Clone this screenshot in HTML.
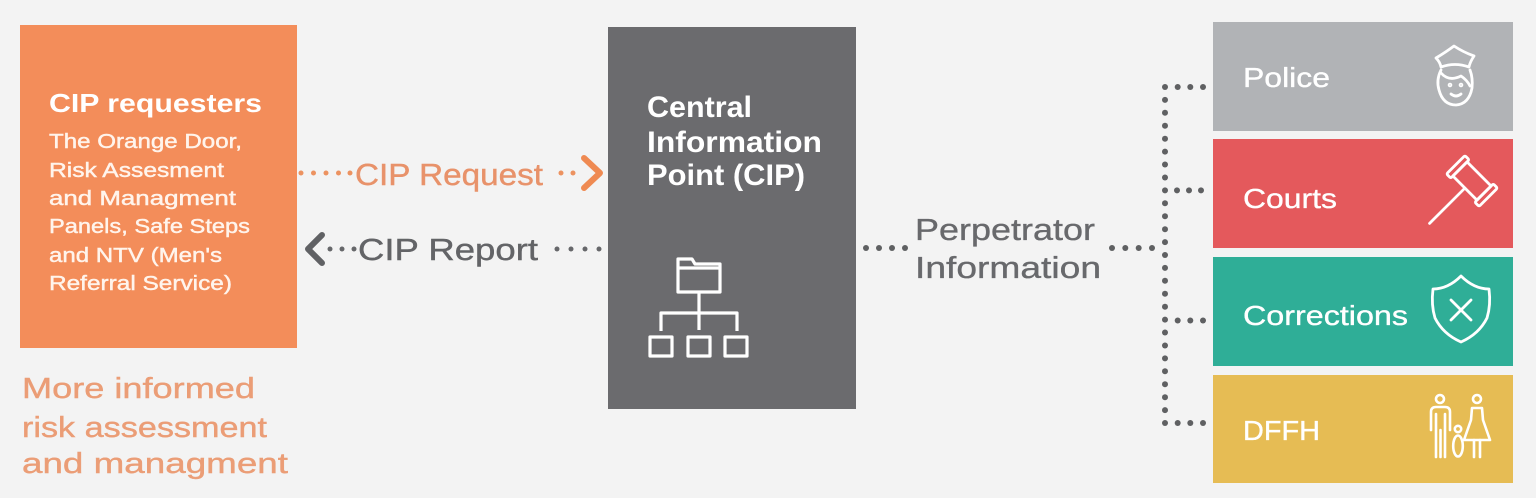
<!DOCTYPE html>
<html>
<head>
<meta charset="utf-8">
<style>
  html,body{margin:0;padding:0;background:#f3f3f3;}
  body{width:1536px;height:498px;overflow:hidden;}
  svg{display:block;}
  text{font-family:"Liberation Sans", Arial, sans-serif;}
</style>
</head>
<body>
<svg width="1536" height="498" viewBox="0 0 1536 498" xmlns="http://www.w3.org/2000/svg">
  <rect x="0" y="0" width="1536" height="498" fill="#f3f3f3"/>

  <!-- Orange requesters box -->
  <rect x="20" y="25" width="277" height="323" fill="#f38d5a"/>
  <text x="49" y="112" font-size="26" font-weight="bold" fill="#ffffff" textLength="213" lengthAdjust="spacingAndGlyphs">CIP requesters</text>
  <g font-size="20.5" fill="#fff4ec" stroke="#fff4ec" stroke-width="0.45">
    <text x="49" y="148" textLength="193" lengthAdjust="spacingAndGlyphs">The Orange Door,</text>
    <text x="49" y="177" textLength="175" lengthAdjust="spacingAndGlyphs">Risk Assesment</text>
    <text x="49" y="205" textLength="187" lengthAdjust="spacingAndGlyphs">and Managment</text>
    <text x="49" y="233" textLength="201" lengthAdjust="spacingAndGlyphs">Panels, Safe Steps</text>
    <text x="49" y="262" textLength="173" lengthAdjust="spacingAndGlyphs">and NTV (Men's</text>
    <text x="49" y="290" textLength="183" lengthAdjust="spacingAndGlyphs">Referral Service)</text>
  </g>

  <!-- More informed text -->
  <g font-size="28.5" fill="#eb9d76" stroke="#eb9d76" stroke-width="0.4">
    <text x="22" y="398" textLength="233" lengthAdjust="spacingAndGlyphs">More informed</text>
    <text x="22" y="437" textLength="245" lengthAdjust="spacingAndGlyphs">risk assessment</text>
    <text x="22" y="473" textLength="266" lengthAdjust="spacingAndGlyphs">and managment</text>
  </g>

  <!-- CIP Request arrow -->
  <g fill="#ec9260">
    <circle cx="301" cy="173" r="2.5"/>
    <circle cx="313.5" cy="173" r="2.5"/>
    <circle cx="326" cy="173" r="2.5"/>
    <circle cx="338.5" cy="173" r="2.5"/>
    <circle cx="350" cy="173" r="2.5"/>
    <circle cx="561" cy="173" r="2.5"/>
    <circle cx="573" cy="173" r="2.5"/>
  </g>
  <text x="355" y="185" font-size="30.5" fill="#e8926a" stroke="#e8926a" stroke-width="0.4" textLength="188" lengthAdjust="spacingAndGlyphs">CIP Request</text>
  <polyline points="584,158 600,173 584,188" fill="none" stroke="#ef8a52" stroke-width="6" stroke-linecap="round" stroke-linejoin="round"/>

  <!-- CIP Report arrow -->
  <polyline points="322,235 308,249 322,263" fill="none" stroke="#606164" stroke-width="6" stroke-linecap="round" stroke-linejoin="round"/>
  <g fill="#66676a">
    <circle cx="330" cy="249" r="2.5"/>
    <circle cx="342" cy="249" r="2.5"/>
    <circle cx="354" cy="249" r="2.5"/>
    <circle cx="557" cy="249" r="2.5"/>
    <circle cx="571" cy="249" r="2.5"/>
    <circle cx="585" cy="249" r="2.5"/>
    <circle cx="599" cy="249" r="2.5"/>
  </g>
  <text x="358" y="260" font-size="30.5" fill="#636467" stroke="#636467" stroke-width="0.4" textLength="180" lengthAdjust="spacingAndGlyphs">CIP Report</text>

  <!-- Central box -->
  <rect x="608" y="27" width="248" height="382" fill="#6b6b6e"/>
  <g font-size="29.5" font-weight="bold" fill="#ffffff">
    <text x="647" y="117" textLength="105" lengthAdjust="spacingAndGlyphs">Central</text>
    <text x="647" y="152" textLength="175" lengthAdjust="spacingAndGlyphs">Information</text>
    <text x="647" y="185" textLength="158" lengthAdjust="spacingAndGlyphs">Point (CIP)</text>
  </g>
  <!-- folder + hierarchy icon -->
  <g fill="none" stroke="#ffffff" stroke-width="3.2" stroke-linejoin="round">
    <path d="M678,259 H692 L695,264 H720 V292 H678 Z"/>
    <line x1="678" y1="268" x2="720" y2="268"/>
    <line x1="699" y1="292" x2="699" y2="330"/>
    <polyline points="661,331 661,313 737,313 737,331"/>
    <rect x="650" y="337" width="22" height="19"/>
    <rect x="688" y="337" width="22" height="19"/>
    <rect x="725" y="337" width="22" height="19"/>
  </g>

  <!-- Perpetrator information text -->
  <g font-size="30.5" fill="#68696c" stroke="#68696c" stroke-width="0.35">
    <text x="915" y="240" textLength="180" lengthAdjust="spacingAndGlyphs">Perpetrator</text>
    <text x="915" y="278" textLength="186" lengthAdjust="spacingAndGlyphs">Information</text>
  </g>

  <!-- Grey dotted connectors -->
  <g fill="#5f6062">
    <!-- left of Perpetrator -->
    <circle cx="866" cy="248" r="3"/>
    <circle cx="879" cy="248" r="3"/>
    <circle cx="892" cy="248" r="3"/>
    <circle cx="905" cy="248" r="3"/>
    <!-- right of Perpetrator -->
    <circle cx="1112" cy="248" r="3"/>
    <circle cx="1125.3" cy="248" r="3"/>
    <circle cx="1138.7" cy="248" r="3"/>
    <circle cx="1152" cy="248" r="3"/>
    <!-- vertical bus -->
    <circle cx="1165" cy="87" r="3"/>
    <circle cx="1165" cy="99.9" r="3"/>
    <circle cx="1165" cy="112.8" r="3"/>
    <circle cx="1165" cy="125.8" r="3"/>
    <circle cx="1165" cy="138.7" r="3"/>
    <circle cx="1165" cy="151.6" r="3"/>
    <circle cx="1165" cy="164.5" r="3"/>
    <circle cx="1165" cy="177.5" r="3"/>
    <circle cx="1165" cy="190.4" r="3"/>
    <circle cx="1165" cy="203.3" r="3"/>
    <circle cx="1165" cy="216.2" r="3"/>
    <circle cx="1165" cy="229.2" r="3"/>
    <circle cx="1165" cy="242.1" r="3"/>
    <circle cx="1165" cy="255" r="3"/>
    <circle cx="1165" cy="267.9" r="3"/>
    <circle cx="1165" cy="280.8" r="3"/>
    <circle cx="1165" cy="293.8" r="3"/>
    <circle cx="1165" cy="306.7" r="3"/>
    <circle cx="1165" cy="319.6" r="3"/>
    <circle cx="1165" cy="332.5" r="3"/>
    <circle cx="1165" cy="345.5" r="3"/>
    <circle cx="1165" cy="358.4" r="3"/>
    <circle cx="1165" cy="371.3" r="3"/>
    <circle cx="1165" cy="384.2" r="3"/>
    <circle cx="1165" cy="397.2" r="3"/>
    <circle cx="1165" cy="410.1" r="3"/>
    <circle cx="1165" cy="423" r="3"/>
    <!-- branches -->
    <circle cx="1177.7" cy="87" r="3"/>
    <circle cx="1190.3" cy="87" r="3"/>
    <circle cx="1203" cy="87" r="3"/>
    <circle cx="1177" cy="190.4" r="3"/>
    <circle cx="1189" cy="190.4" r="3"/>
    <circle cx="1201" cy="190.4" r="3"/>
    <circle cx="1177.7" cy="320.5" r="3"/>
    <circle cx="1190.3" cy="320.5" r="3"/>
    <circle cx="1203" cy="320.5" r="3"/>
    <circle cx="1177.7" cy="423" r="3"/>
    <circle cx="1190.3" cy="423" r="3"/>
    <circle cx="1203" cy="423" r="3"/>
  </g>

  <!-- Right boxes -->
  <rect x="1213" y="22" width="300" height="109" fill="#b1b3b6"/>
  <rect x="1213" y="139" width="300" height="109" fill="#e4595c"/>
  <rect x="1213" y="257" width="300" height="109" fill="#2fae97"/>
  <rect x="1213" y="375" width="300" height="108" fill="#e6bc54"/>

  <g font-size="28" fill="#ffffff" stroke="#ffffff" stroke-width="0.35">
    <text x="1243" y="87" textLength="87" lengthAdjust="spacingAndGlyphs">Police</text>
    <text x="1243" y="208" textLength="94" lengthAdjust="spacingAndGlyphs">Courts</text>
    <text x="1243" y="325" textLength="165" lengthAdjust="spacingAndGlyphs">Corrections</text>
    <text x="1243" y="440" textLength="77" lengthAdjust="spacingAndGlyphs">DFFH</text>
  </g>

  <!-- Police icon -->
  <g fill="none" stroke="#ffffff" stroke-width="2.8" stroke-linecap="round" stroke-linejoin="round">
    <path d="M1436,58 Q1446,52 1454,46 Q1463,52 1474,56 Q1470,62 1469,67 Q1455,62 1441,67 Q1440,62 1436,58 Z"/>
    <path d="M1441,70 Q1436,80 1439,90 Q1443,105 1456,105 Q1469,104 1472,88 Q1473,78 1470,70"/>
    <path d="M1441,73 Q1449,82 1461,76 Q1467,80 1470,86"/>
    <circle cx="1450" cy="85" r="0.9"/>
    <circle cx="1461" cy="85" r="0.9"/>
    <path d="M1451,94 Q1456,98 1461,94"/>
  </g>

  <!-- Gavel icon -->
  <g transform="translate(1472,181) rotate(45)" fill="none" stroke="#ffffff" stroke-width="2.8" stroke-linejoin="round" stroke-linecap="round">
    <rect x="-17" y="-10" width="34" height="20"/>
    <rect x="-23" y="-13" width="6" height="26" rx="1.5"/>
    <rect x="17" y="-13" width="6" height="26" rx="1.5"/>
    <line x1="0" y1="10" x2="0" y2="60"/>
  </g>

  <!-- Shield icon -->
  <g fill="none" stroke="#ffffff" stroke-width="2.8" stroke-linejoin="round" stroke-linecap="round">
    <path d="M1461,276 Q1448,289 1433,289 Q1431,305 1435,318 Q1443,334 1461,342 Q1479,334 1487,318 Q1491,305 1489,289 Q1474,289 1461,276 Z"/>
    <line x1="1451" y1="300" x2="1471" y2="320"/>
    <line x1="1471" y1="300" x2="1451" y2="320"/>
  </g>

  <!-- Family icon -->
  <g fill="none" stroke="#ffffff" stroke-width="2.6" stroke-linejoin="round" stroke-linecap="round">
    <circle cx="1440" cy="399" r="4"/>
    <path d="M1431,430 V412 Q1431,407 1436,407 H1445 Q1450,407 1450,412 V430"/>
    <line x1="1436" y1="414" x2="1436" y2="457"/>
    <line x1="1440.5" y1="430" x2="1440.5" y2="457"/>
    <line x1="1445" y1="414" x2="1445" y2="457"/>
    <circle cx="1458" cy="429" r="3.2"/>
    <ellipse cx="1458" cy="446" rx="4.8" ry="10.5"/>
    <circle cx="1477" cy="399" r="4"/>
    <path d="M1472,408 H1482 L1483,420 L1490,440 H1464 L1471,420 Z"/>
    <line x1="1474" y1="440" x2="1474" y2="457"/>
    <line x1="1480" y1="440" x2="1480" y2="457"/>
  </g>
</svg>
</body>
</html>
